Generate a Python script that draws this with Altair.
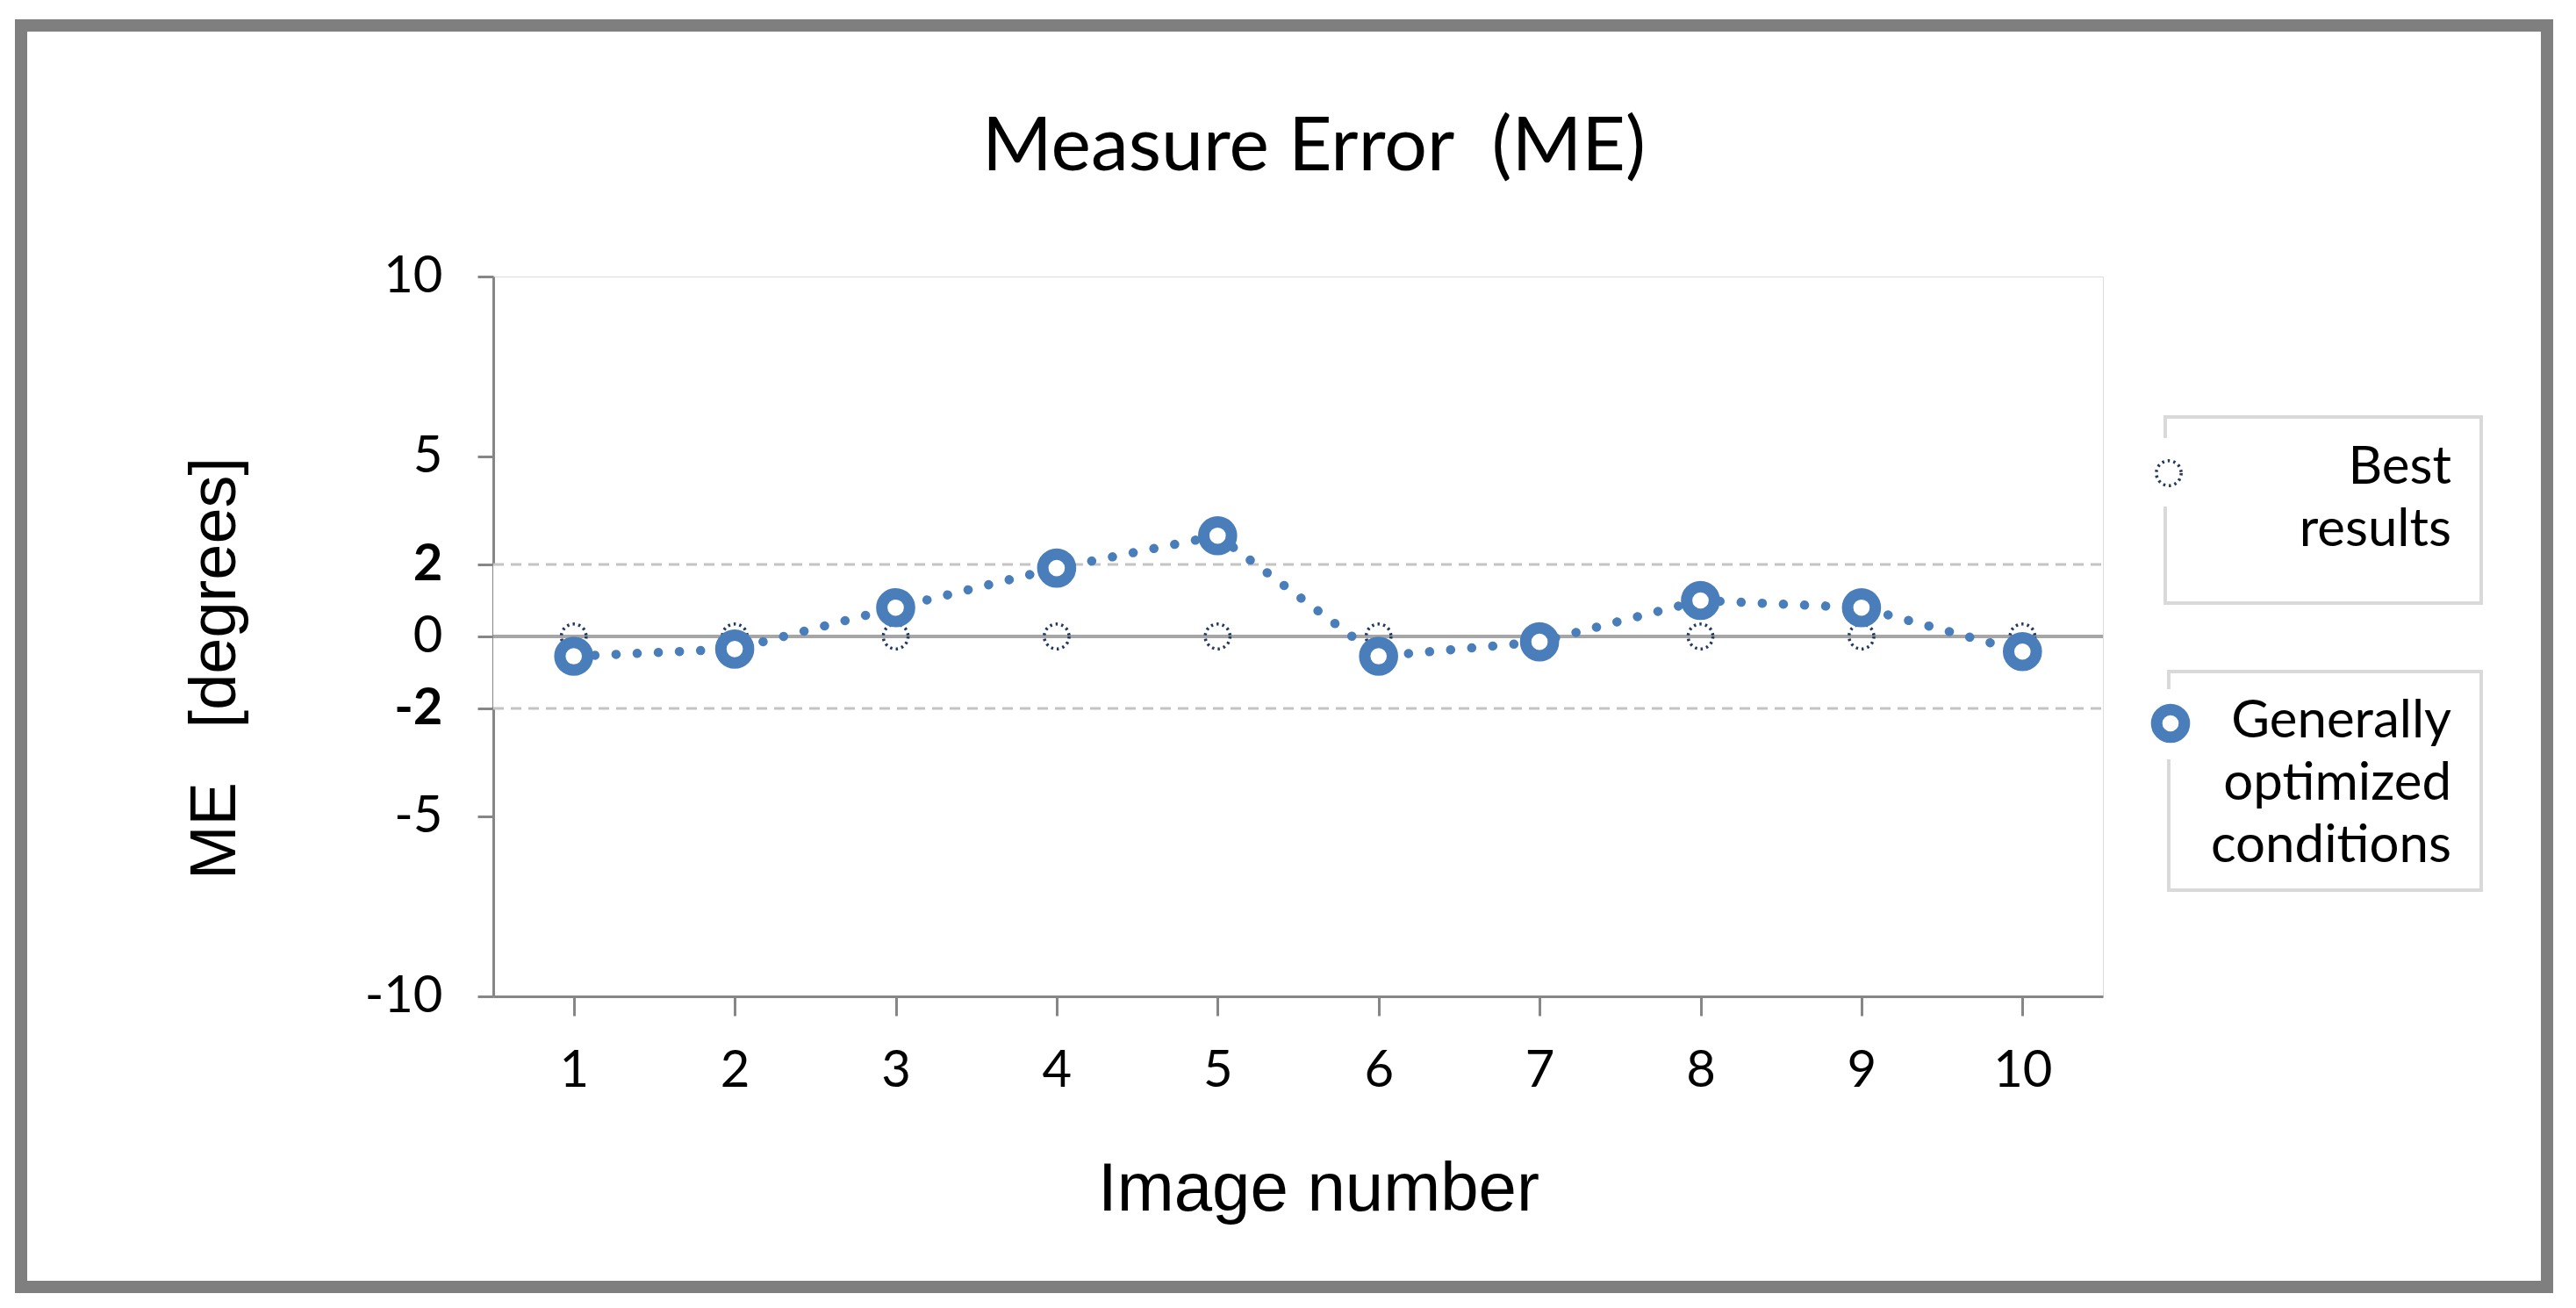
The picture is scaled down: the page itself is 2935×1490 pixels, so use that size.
import altair as alt
import pandas as pd

# ---- data ----
image_numbers = [1, 2, 3, 4, 5, 6, 7, 8, 9, 10]
best_results = [0, 0, 0, 0, 0, 0, 0, 0, 0, 0]
generally_optimized = [-0.55, -0.35, 0.8, 1.9, 2.8, -0.55, -0.15, 1.0, 0.8, -0.42]
y_ticks = [-10, -5, -2, 0, 2, 5, 10]
tolerance_band = [-2, 2]
series_names = ["Best results", "Generally optimized conditions"]
legend_lines = [["Best", "results"], ["Generally", "optimized", "conditions"]]
chart_title = "Measure Error\u00a0\u00a0(ME)"
y_title = "ME\u00a0\u00a0\u00a0[degrees]"
x_title = "Image number"

W, H = 1834, 820
BLUE = "#4a7ebb"
NAVY = "#1f3864"
AXIS_GRAY = "#868686"

df = pd.DataFrame({"image": image_numbers, "best": best_results, "general": generally_optimized})
one = pd.DataFrame({"k": [0]})

xscale = alt.Scale(domain=[0.5, 10.5], nice=False, zero=False)
yscale = alt.Scale(domain=[-10, 10], nice=False, zero=False)

x_axis = alt.Axis(
    values=image_numbers, labelExpr="'' + datum.value", title=x_title, grid=False,
    domainColor=AXIS_GRAY, domainWidth=3, tickColor=AXIS_GRAY, tickWidth=3, tickSize=22,
    labelFont="Lato", labelFontSize=58, labelColor="black", labelPadding=34,
    titleFont="Liberation Sans", titleFontSize=78, titleFontWeight="normal", titleColor="black",
    titleX=940, titleY=243, titleAlign="center", titleBaseline="alphabetic",
)
y_axis = alt.Axis(
    values=y_ticks, labelExpr="'' + datum.value", title=y_title, grid=False,
    domainColor=AXIS_GRAY, domainWidth=3, tickColor=AXIS_GRAY, tickWidth=3, tickSize=18,
    labelFont="Lato", labelFontSize=58, labelColor="black", labelPadding=40,
    labelFontWeight={"condition": {"test": "abs(datum.value) == 2", "value": "bold"}, "value": "normal"},
    titleFont="Liberation Sans", titleFontSize=74, titleFontWeight="normal", titleColor="black",
    titleAngle=270, titleX=-317, titleY=446, titleAlign="center", titleBaseline="middle",
)

# outer frame
frame = alt.Chart(one).mark_rect(fillOpacity=0, stroke="#7f7f7f", strokeWidth=14).encode(
    x=alt.value(-538), x2=alt.value(2340), y=alt.value(-286), y2=alt.value(1151)
)

# chart title
title = alt.Chart(one).mark_text(
    align="center", baseline="alphabetic", font="Lato", fontSize=86, color="black"
).encode(x=alt.value(W / 2 + 18), y=alt.value(-121), text=alt.value(chart_title))

# white tolerance band between -2 and 2
band = alt.Chart(one).mark_rect(color="white").encode(
    x=alt.value(0), x2=alt.value(W),
    y=alt.YDatum(tolerance_band[1], scale=yscale), y2=alt.datum(tolerance_band[0]),
)
band_df = pd.DataFrame({"lim": tolerance_band})
band_rules = alt.Chart(band_df).mark_rule(color="#c4c4c4", strokeWidth=3, strokeDash=[12, 8]).encode(
    x=alt.value(0), x2=alt.value(W), y=alt.Y("lim:Q", scale=yscale, axis=y_axis)
)
zero_rule = alt.Chart(one).mark_rule(color="#a6a6a6", strokeWidth=4).encode(
    x=alt.value(0), x2=alt.value(W), y=alt.YDatum(0, scale=yscale)
)

best_pts = alt.Chart(df).mark_point(
    shape="circle", filled=False, size=800, stroke=NAVY, strokeWidth=3.5, strokeDash=[2.5, 4], opacity=1
).encode(
    x=alt.X("image:Q", scale=xscale, axis=x_axis),
    y=alt.Y("best:Q", scale=yscale, axis=y_axis),
)
gen_line = alt.Chart(df).mark_line(
    color=BLUE, strokeWidth=10.5, strokeDash=[0.1, 24], strokeCap="round"
).encode(
    x=alt.X("image:Q", scale=xscale, axis=x_axis),
    y=alt.Y("general:Q", scale=yscale, axis=y_axis),
)
gen_pts = alt.Chart(df).mark_point(
    shape="circle", filled=False, fill="white", fillOpacity=1, size=1000, stroke=BLUE, strokeWidth=13, opacity=1
).encode(
    x=alt.X("image:Q", scale=xscale, axis=x_axis),
    y=alt.Y("general:Q", scale=yscale, axis=y_axis),
)

# ---- legend (boxed entries on the right) ----
box1 = alt.Chart(one).mark_rect(fill="white", stroke="#d9d9d9", strokeWidth=4).encode(
    x=alt.value(1905), x2=alt.value(2265), y=alt.value(160), y2=alt.value(372)
)
box2 = alt.Chart(one).mark_rect(fill="white", stroke="#d9d9d9", strokeWidth=4).encode(
    x=alt.value(1909), x2=alt.value(2265), y=alt.value(450), y2=alt.value(699)
)
gap1 = alt.Chart(one).mark_rect(fill="white").encode(
    x=alt.value(1893), x2=alt.value(1925), y=alt.value(184), y2=alt.value(262)
)
gap2 = alt.Chart(one).mark_rect(fill="white").encode(
    x=alt.value(1895), x2=alt.value(1927), y=alt.value(470), y2=alt.value(550)
)
sym1 = alt.Chart(one).mark_point(
    shape="circle", filled=False, size=800, stroke=NAVY, strokeWidth=3.5, strokeDash=[2.5, 4], opacity=1
).encode(x=alt.value(1909), y=alt.value(224))
sym2 = alt.Chart(one).mark_point(
    shape="circle", filled=False, fill="white", fillOpacity=1, size=1000, stroke=BLUE, strokeWidth=13, opacity=1
).encode(x=alt.value(1911), y=alt.value(509))
txt1 = alt.Chart(one).mark_text(
    align="right", baseline="middle", lineHeight=71, font="Lato", fontSize=60, color="black"
).encode(x=alt.value(2231), y=alt.value(218), text=alt.value(legend_lines[0]))
txt2 = alt.Chart(one).mark_text(
    align="right", baseline="middle", lineHeight=71, font="Lato", fontSize=60, color="black"
).encode(x=alt.value(2231), y=alt.value(507), text=alt.value(legend_lines[1]))

chart = alt.layer(
    frame, title, band, band_rules, zero_rule, best_pts, gen_line, gen_pts,
    box1, box2, gap1, gap2, sym1, sym2, txt1, txt2,
).properties(
    width=W, height=H,
    autosize=alt.AutoSizeParams(type="none"),
    padding={"left": 554, "top": 307, "right": 515, "bottom": 338},
).configure_view(
    fill="#f2f2f2", stroke="transparent"
).configure(background="white")

chart.save("out.html", embed_options={"renderer": "svg", "actions": False})
